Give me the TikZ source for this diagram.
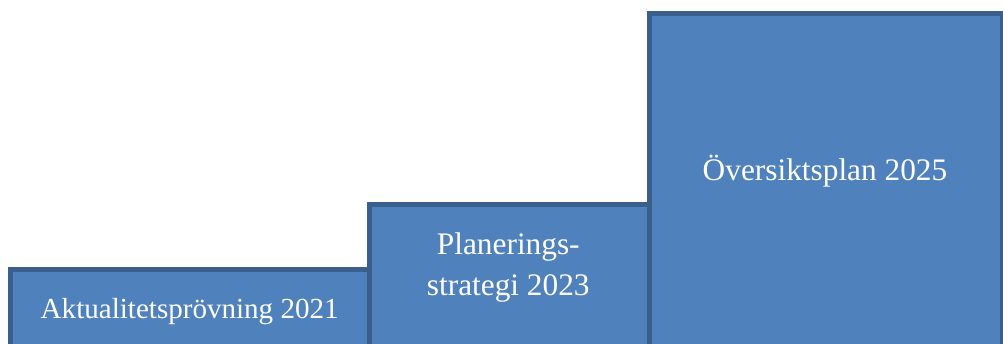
\documentclass[tikz,border=0pt]{standalone}
\usepackage{fontspec}
\setmainfont{Liberation Serif}
\definecolor{stepfill}{HTML}{4F81BD}
\definecolor{stepline}{HTML}{3A5F8C}
\tikzset{
  stepbox/.style={fill=stepfill,draw=stepline,line width=3.75pt},
  steptext/.style={text=white,inner sep=0pt,align=center},
  smalltext/.style={steptext,font=\fontsize{21.8}{30.75}\selectfont},
  bigtext/.style={steptext,font=\fontsize{23.5}{30.75}\selectfont}
}
\begin{document}
\begin{tikzpicture}[x=0.75pt,y=-0.75pt]
\useasboundingbox (0,0) rectangle (1003,343);
\clip (0,0) rectangle (1003,343);
\draw[stepbox] (10.5,269.5) rectangle (369.5,360);
\draw[stepbox] (369.5,204.5) rectangle (649.5,360);
\draw[stepbox] (649.5,13.5) rectangle (1002.5,360);
\node[smalltext,anchor=base] (aktual) at (189.7,318.5) {Aktualitetsprövning 2021};
\node[bigtext,anchor=base] (planstrat) at (508.3,295.5) {Planerings-\\strategi 2023};
\node[bigtext,anchor=base] (oversikt) at (825,180) {Översiktsplan 2025};
\end{tikzpicture}
\end{document}
